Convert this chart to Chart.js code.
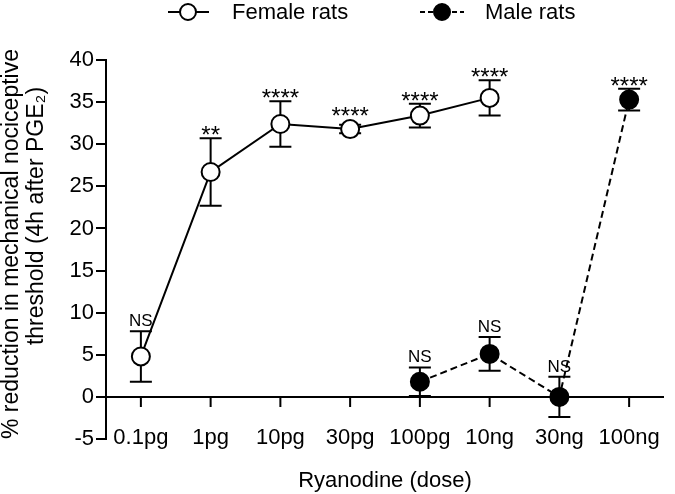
<!DOCTYPE html>
<html>
<head>
<meta charset="utf-8">
<script src="https://cdn.jsdelivr.net/npm/chart.js@4"></script>
<style>
  body { margin: 0; background: #fff; }
  #wrap { width: 675px; height: 494px; }
</style>
</head>
<body>
<div id="wrap"><canvas id="ryanodineChart"></canvas></div>
<script>
const doses = ["0.1pg", "1pg", "10pg", "30pg", "100pg", "10ng", "30ng", "100ng"];
const femaleMean = [4.8, 26.7, 32.4, 31.8, 33.4, 35.5, null, null];
const femaleSem = [3.0, 4.0, 2.7, 0.5, 1.4, 2.1, null, null];
const femaleSig = ["NS", "**", "****", "****", "****", "****", null, null];
const maleMean = [null, null, null, null, 1.8, 5.1, 0, 35.3];
const maleSem = [null, null, null, null, 1.7, 2.0, 2.4, 1.3];
const maleSig = [null, null, null, null, "NS", "NS", "NS", "****"];
const yMin = -5;
const yMax = 40;
const yStep = 5;
const yTitle = ["% reduction in mechanical nociceptive", "threshold (4h after PGE\u2082)"];

const FONT = "'Liberation Sans', Arial, sans-serif";
Chart.defaults.font.family = FONT;
Chart.defaults.color = "#000";

const semSets = [femaleSem, maleSem];
const sigSets = [femaleSig, maleSig];

// x axis line at zero + its tick marks, and the error bars (under the markers)
const underMarks = {
  id: "underMarks",
  beforeDatasetsDraw(chart) {
    const ctx = chart.ctx;
    const xs = chart.scales.x;
    const ys = chart.scales.y;
    const area = chart.chartArea;
    const y0 = ys.getPixelForValue(0);
    ctx.save();
    ctx.strokeStyle = "#000";
    ctx.lineWidth = 2;
    ctx.beginPath();
    ctx.moveTo(area.left, y0);
    ctx.lineTo(area.right, y0);
    doses.forEach((d, i) => {
      const x = xs.getPixelForValue(i);
      ctx.moveTo(x, y0);
      ctx.lineTo(x, y0 + 10);
    });
    ctx.stroke();

    chart.data.datasets.forEach((ds, di) => {
      const meta = chart.getDatasetMeta(di);
      ds.data.forEach((v, j) => {
        if (v === null) return;
        const sem = semSets[di][j];
        const x = meta.data[j].x;
        const yt = ys.getPixelForValue(v + sem);
        const yb = ys.getPixelForValue(v - sem);
        ctx.beginPath();
        ctx.moveTo(x, yt);
        ctx.lineTo(x, yb);
        ctx.moveTo(x - 11, yt);
        ctx.lineTo(x + 11, yt);
        ctx.moveTo(x - 11, yb);
        ctx.lineTo(x + 11, yb);
        ctx.stroke();
      });
    });
    ctx.restore();
  }
};

// significance labels above each point
const sigLabels = {
  id: "sigLabels",
  afterDatasetsDraw(chart) {
    const ctx = chart.ctx;
    const ys = chart.scales.y;
    ctx.save();
    ctx.fillStyle = "#000";
    ctx.textAlign = "center";
    ctx.textBaseline = "alphabetic";
    chart.data.datasets.forEach((ds, di) => {
      const meta = chart.getDatasetMeta(di);
      ds.data.forEach((v, j) => {
        const s = sigSets[di][j];
        if (v === null || !s) return;
        const pt = meta.data[j];
        const top = Math.min(ys.getPixelForValue(v + semSets[di][j]), pt.y - 10);
        if (s === "NS") {
          ctx.font = "17px " + FONT;
          ctx.fillText(s, pt.x, top - 5);
        } else {
          ctx.font = "24px " + FONT;
          ctx.fillText(s, pt.x, top + 5);
        }
      });
    });
    ctx.restore();
  }
};

// dose labels under the axis, y title, legend on top
const textBits = {
  id: "textBits",
  afterDraw(chart) {
    const ctx = chart.ctx;
    const xs = chart.scales.x;
    ctx.save();
    ctx.fillStyle = "#000";
    ctx.font = "22px " + FONT;
    ctx.textAlign = "center";
    ctx.textBaseline = "alphabetic";
    doses.forEach((d, i) => {
      ctx.fillText(d, xs.getPixelForValue(i), 444);
    });

    // y axis title, two rotated lines
    ctx.font = "23px " + FONT;
    ctx.textBaseline = "middle";
    ctx.save();
    ctx.translate(12, 244);
    ctx.rotate(-Math.PI / 2);
    ctx.fillText(yTitle[0], 0, 0);
    ctx.restore();
    ctx.save();
    ctx.translate(37, 216);
    ctx.rotate(-Math.PI / 2);
    ctx.fillText(yTitle[1], 0, 0);
    ctx.restore();

    const y = 12;
    ctx.strokeStyle = "#000";
    ctx.lineWidth = 2;
    // female
    ctx.beginPath();
    ctx.moveTo(168, y);
    ctx.lineTo(209, y);
    ctx.stroke();
    ctx.beginPath();
    ctx.arc(188, y, 8, 0, Math.PI * 2);
    ctx.fillStyle = "#fff";
    ctx.fill();
    ctx.stroke();
    // male
    ctx.setLineDash([5, 3]);
    ctx.beginPath();
    ctx.moveTo(420, y);
    ctx.lineTo(464, y);
    ctx.stroke();
    ctx.setLineDash([]);
    ctx.beginPath();
    ctx.arc(442, y, 8, 0, Math.PI * 2);
    ctx.fillStyle = "#000";
    ctx.fill();
    ctx.stroke();

    ctx.font = "22px " + FONT;
    ctx.textBaseline = "middle";
    ctx.textAlign = "left";
    ctx.fillText("Female rats", 232, y + 1);
    ctx.fillText("Male rats", 485, y + 1);
    ctx.restore();
  }
};

new Chart("ryanodineChart", {
  type: "line",
  data: {
    labels: doses,
    datasets: [
      {
        label: "Female rats",
        data: femaleMean,
        borderColor: "#000",
        borderWidth: 2,
        pointRadius: 9,
        pointHoverRadius: 9,
        pointBackgroundColor: "#fff",
        pointBorderColor: "#000",
        pointBorderWidth: 2,
        tension: 0,
        spanGaps: false
      },
      {
        label: "Male rats",
        data: maleMean,
        borderColor: "#000",
        borderWidth: 2,
        borderDash: [7, 4],
        pointRadius: 9,
        pointHoverRadius: 9,
        pointBackgroundColor: "#000",
        pointBorderColor: "#000",
        pointBorderWidth: 2,
        tension: 0,
        spanGaps: false
      }
    ]
  },
  options: {
    responsive: true,
    maintainAspectRatio: false,
    animation: false,
    layout: { padding: { top: 60, right: 2, left: 0, bottom: 0 } },
    plugins: {
      legend: { display: false },
      tooltip: { enabled: false }
    },
    scales: {
      x: {
        offset: true,
        grid: { display: false, drawTicks: false },
        border: { display: false },
        ticks: { display: false },
        title: {
          display: true,
          text: "Ryanodine (dose)",
          color: "#000",
          font: { size: 22 },
          padding: { top: 0, bottom: 0 }
        },
        afterFit(s) { s.height = 55; }
      },
      y: {
        min: yMin,
        max: yMax,
        ticks: { stepSize: yStep, color: "#000", font: { size: 22 }, padding: 2 },
        grid: { drawOnChartArea: false, drawTicks: true, tickLength: 10, color: "#000", lineWidth: 2 },
        border: { display: true, color: "#000", width: 2 },
        title: { display: false },
        afterFit(s) { s.width = 106; }
      }
    }
  },
  plugins: [underMarks, sigLabels, textBits]
});
</script>
</body>
</html>
